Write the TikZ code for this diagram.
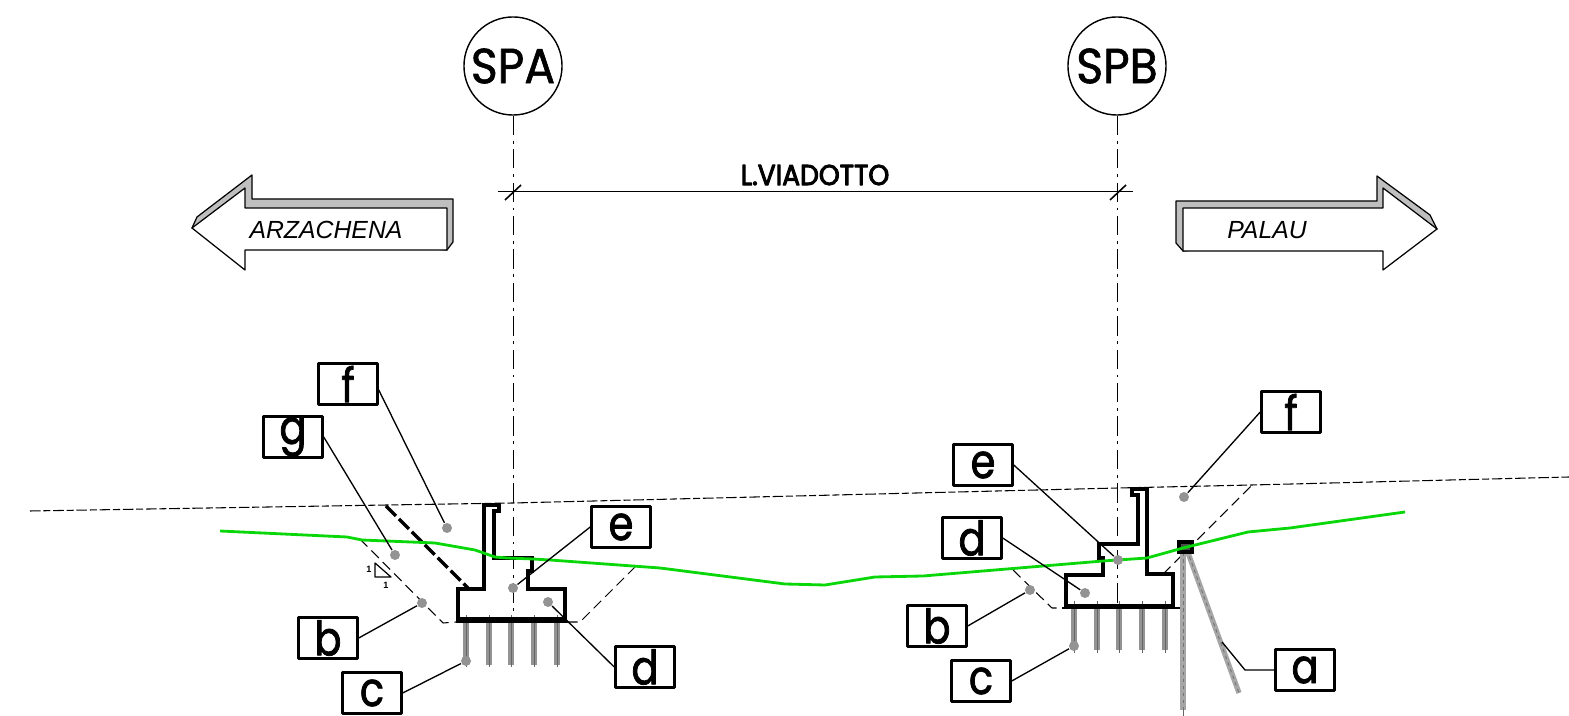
\documentclass[tikz,border=0pt]{standalone}
\usepackage{fontspec}
\setmainfont{Poppins}
\newfontfamily\roadfont{Liberation Sans}
\newfontfamily\tagfont[FakeBold=1.6,FakeStretch=.84]{Poppins}
\newfontfamily\axisfont[FakeBold=1.2,FakeStretch=.93]{Poppins}
\newfontfamily\spanfont[FakeBold=3.2,FakeStretch=.92]{Poppins}
\definecolor{ground}{RGB}{10,215,10}
\tikzset{
	labelbox/.style={draw, line width=.7pt, minimum width=.59cm, minimum height=.41cm, inner sep=0pt, font=\tagfont\fontsize{13.5}{13.5}\selectfont},
	axiscircle/.style={draw, circle, line width=.4pt, minimum size=.98cm, inner sep=0pt, font=\axisfont\fontsize{14}{14}\selectfont},
	refdot/.style={circle, fill=gray!85, minimum size=.1cm, inner sep=0pt},
	leader/.style={line width=.38pt},
	pier/.style={line width=.92pt, line join=miter},
	thindash/.style={line width=.3pt, dash pattern=on 3pt off .8pt on 2pt off .8pt},
	slopedash/.style={line width=.3pt, dash pattern=on 3pt off 1.6pt},
	axisline/.style={line width=.25pt, dash pattern=on 5.5pt off 1.6pt on .8pt off 1.6pt},
	shade3d/.style={draw, line width=.35pt, fill=gray!50},
	arrowface/.style={draw, line width=.35pt, fill=white},
	pile/.style={line width=1.7pt, gray!85},
	anchorbar/.style={line width=1.5pt, gray!70},
	roadtext/.style={font=\roadfont\itshape\fontsize{7.05}{7.05}\selectfont, inner sep=0pt}
}
\begin{document}
\begin{tikzpicture}[x=.01cm, y=-.01cm, line join=round, line cap=butt]
	\useasboundingbox (0,0) rectangle (1569,716);
	%axes
	\node[axiscircle] (SPA) at (513,66) {SPA};
	\node[axiscircle] (SPB) at (1117,66) {SPB};
	\coordinate (SPAend) at (513,622);
	\coordinate (SPBend) at (1117,607);
	\draw[axisline] (SPA) -- (SPAend);
	\draw[axisline] (SPB) -- (SPBend);
	%span dimension
	\coordinate (dimL) at (498,192);
	\coordinate (dimR) at (1133,192);
	\draw[line width=.28pt] (dimL) -- (dimR);
	\node[font=\spanfont\fontsize{8.2}{8.2}\selectfont, inner sep=0pt] (span) at (815,175) {L.VIADOTTO};
	\draw[line width=.45pt] (505,200)--(521,185);
	\draw[line width=.45pt] (1110,200)--(1126,185);
	%direction arrows
	\draw[shade3d] (192,228)--(197,217)--(252,175)--(252,199)--(453,199)--(453,242)--(447,250)--cycle;
	\draw[arrowface] (192,228)--(245,188)--(245,208)--(447,208)--(447,250)--(245,250)--(245,270)--cycle;
	\node[roadtext] (arzachena) at (326,230) {ARZACHENA};
	\draw[shade3d] (1183,251)--(1176,243)--(1176,201)--(1377,201)--(1377,176)--(1430,215)--(1437,229)--cycle;
	\draw[arrowface] (1183,208)--(1383,208)--(1383,188)--(1437,229)--(1383,270)--(1383,251)--(1183,251)--cycle;
	\node[roadtext] (palau) at (1267,230) {PALAU};
	%fill level
	\draw[thindash] (30,511)--(387,505)--(513,503)--(1118,488)--(1252,485)--(1569,477);
	%slopes
	\draw[slopedash] (360,539)--(443,623)--(456,622);
	\draw[slopedash] (567,622)--(580,622)--(635,567);
	\draw[slopedash] (1013,570)--(1052,608)--(1063,608);
	\draw[slopedash] (1163,574)--(1252,485);
	\draw[line width=1pt, dash pattern=on 4pt off 1.2pt] (386,506)--(468,588);
	%slope triangle
	\draw[line width=.35pt] (375,563)--(375,577)--(391,577)--cycle;
	\node[font=\roadfont\bfseries\fontsize{2.6}{2.6}\selectfont, inner sep=0pt] (oneA) at (369,569) {1};
	\node[font=\roadfont\bfseries\fontsize{2.6}{2.6}\selectfont, inner sep=0pt] (oneB) at (386,585) {1};
	%piles
	\foreach \x in {466,489,511,534,557}{
		\draw[pile] (\x,622)--(\x,665);
		\draw[line width=.25pt, black!60] (\x,615)--(\x,667);
	}
	\foreach \x in {1074,1097,1119,1142,1165}{
		\draw[pile] (\x,608)--(\x,650);
		\draw[line width=.25pt, black!60] (\x,601)--(\x,653);
	}
	%piers
	\draw[pier] (458,619)--(458,589)--(484,589)--(484,505)--(499,505)--(499,511)--(494,511)--(494,558)--(532,558)--(532,571)--(528,571)--(528,589)--(565,589)--(565,619)--cycle;
	\draw[line width=1pt] (458,621)--(566,621);
	\draw[line width=.35pt] (456,622)--(568,622);
	\draw[pier] (1066,606)--(1066,575)--(1103,575)--(1103,558)--(1099,558)--(1099,544)--(1138,544)--(1138,495)--(1132,495)--(1132,489)--(1147,489)--(1147,574)--(1173,574)--(1173,606)--cycle;
	\draw[line width=1pt] (1064,607)--(1175,607);
	\draw[line width=.35pt] (1062,608)--(1183,608);
	%anchors
	\draw[anchorbar] (1183,552)--(1183,710);
	\draw[anchorbar] (1187,550)--(1239,693);
	\draw[line width=.25pt, black!60] (1183,710)--(1183,716);
	\draw[line width=.25pt, black!55, dash pattern=on 1pt off 1pt] (1183,552)--(1183,710);
	\draw[line width=.25pt, black!55, dash pattern=on 1pt off 1pt] (1187,550)--(1239,693);
	\draw[line width=1.2pt, line join=miter, fill=black!70] (1179,542) rectangle (1192,552);
	%existing ground
	\draw[ground, line width=.8pt] (220,531)--(347,537)--(362,540)--(435,543)--(475,550)--(495,557)--(507,558)--(533,559)--(550,560)--(660,568)--(785,584)--(825,585)--(875,577)--(923,576)--(1103,561)--(1147,558)--(1183,548)--(1248,532)--(1290,528)--(1405,512);
	%reference dots
	\foreach \name/\x/\y in {dotf/447/528, dotg/395/555, dotb/422/603, dotc/466/661, dote/513/588, dotd/548/602, rdotf/1184/497, rdote/1118/560, rdotd/1085/593, rdotb/1030/590, rdotc/1074/646}
		\node[refdot] (\name) at (\x,\y) {};
	\coordinate (rdota) at (1222,642);
	\coordinate (bendA) at (1245,670);
	%labels
	\foreach \name/\x/\y/\txt in {boxf/348/384/f, boxg/293/437/g, boxb/328/638/b, boxc/372/693/c, boxe/621/527/e, boxd/645/667/d, rboxf/1291/412/f, rboxe/983/465/e, rboxd/972/538/d, rboxb/937/626/b, rboxc/981/681/c, rboxa/1305/670/a}
		\node[labelbox] (\name) at (\x,\y) {\raisebox{-.5pt}{\txt}};
	\draw[leader] (boxf.-11)--(dotf);
	\draw[leader] (boxg.east)--(dotg);
	\draw[leader] (boxb.east)--(dotb);
	\draw[leader] (boxc.east)--(dotc);
	\draw[leader] (boxe.west)--(dote);
	\draw[leader] (boxd.west)--(dotd);
	\draw[leader] (rboxf.west)--(rdotf);
	\draw[leader] (rboxe.east)--(rdote);
	\draw[leader] (rboxd.east)--(rdotd);
	\draw[leader] (rboxb.east)--(rdotb);
	\draw[leader] (rboxc.east)--(rdotc);
	\draw[leader] (rboxa.west)--(bendA)--(rdota);
\end{tikzpicture}
\end{document}
